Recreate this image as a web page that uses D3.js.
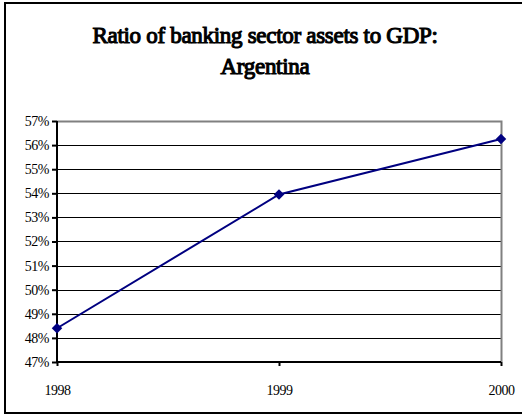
<!DOCTYPE html>
<html>
<head>
<meta charset="utf-8">
<script src="https://cdn.jsdelivr.net/npm/d3@7"></script>
<style>
  html, body { margin: 0; padding: 0; background: #fff; }
  svg { display: block; }
  text { font-family: "Liberation Serif", "Times New Roman", serif; fill: #000; }
</style>
</head>
<body>
<svg id="chart" width="522" height="415"></svg>
<script>
// Banking sector assets as a share of GDP, Argentina
const years = ["1998", "1999", "2000"];
const ratios = [0.484, 0.5395, 0.5625];
const yTicks = [0.47, 0.48, 0.49, 0.50, 0.51, 0.52, 0.53, 0.54, 0.55, 0.56, 0.57];
const titleLines = ["Ratio of banking sector assets to GDP:", "Argentina"];

const svg = d3.select("#chart");
const W = 522, H = 415;
const plot = { left: 57, right: 501, top: 121, bottom: 362 };

// Outer chart frame
svg.append("rect")
  .attr("x", 5).attr("y", 3)
  .attr("width", W + 10).attr("height", 410)
  .attr("fill", "#fff").attr("stroke", "#000").attr("stroke-width", 2);

// Title (serif, heavy stroke for weight)
svg.append("g").selectAll("text")
  .data(titleLines)
  .join("text")
  .attr("x", 265)
  .attr("y", (d, i) => 43 + i * 31)
  .attr("text-anchor", "middle")
  .attr("font-family", "Liberation Serif, serif")
  .attr("font-size", 23)
  .attr("letter-spacing", -0.3)
  .attr("stroke", "#000")
  .attr("stroke-width", 1.1)
  .text(d => d);

const x = d3.scalePoint().domain(years).range([plot.left, plot.right]);
const y = d3.scaleLinear().domain([0.47, 0.57]).range([plot.bottom, plot.top]);

// Horizontal gridlines
svg.append("g")
  .selectAll("line")
  .data(yTicks.filter(t => t > 0.47 && t < 0.57))
  .join("line")
  .attr("x1", plot.left).attr("x2", plot.right)
  .attr("y1", d => Math.round(y(d)) + 0.5).attr("y2", d => Math.round(y(d)) + 0.5)
  .attr("stroke", "#000").attr("stroke-width", 1);

// Plot frame: top and right edges in grey
svg.append("path")
  .attr("d", `M${plot.left},${plot.top + 0.5}H${plot.right + 0.5}V${plot.bottom}`)
  .attr("fill", "none").attr("stroke", "#808080").attr("stroke-width", 2);

// Y axis
const yAxis = svg.append("g")
  .attr("transform", `translate(${plot.left},0)`)
  .call(d3.axisLeft(y).tickValues(yTicks).tickFormat(d3.format(".0%")).tickSize(5).tickPadding(3));
yAxis.select(".domain").attr("stroke", "#000").attr("stroke-width", 2)
  .attr("d", `M0,${plot.top}V${plot.bottom}`);
yAxis.selectAll(".tick line").attr("stroke", "#000").attr("stroke-width", 2);
yAxis.selectAll(".tick text")
  .attr("font-family", "Liberation Serif, serif")
  .attr("font-size", 14).attr("fill", "#000").attr("letter-spacing", -0.5);

// X axis
const xAxis = svg.append("g")
  .attr("transform", `translate(0,${plot.bottom})`)
  .call(d3.axisBottom(x).tickSize(4).tickPadding(19));
xAxis.select(".domain").attr("stroke", "#000").attr("stroke-width", 2)
  .attr("d", `M${plot.left},0H${plot.right}`);
xAxis.selectAll(".tick line").attr("stroke", "#000").attr("stroke-width", 2);
xAxis.selectAll(".tick text")
  .attr("font-family", "Liberation Serif, serif")
  .attr("font-size", 14).attr("fill", "#000").attr("letter-spacing", -0.5);

// Series line
const series = years.map((yr, i) => ({ year: yr, value: ratios[i] }));
svg.append("path")
  .datum(series)
  .attr("fill", "none")
  .attr("stroke", "#000080")
  .attr("stroke-width", 2)
  .attr("d", d3.line().x(d => x(d.year)).y(d => y(d.value)));

// Diamond markers
svg.append("g")
  .selectAll("path")
  .data(series)
  .join("path")
  .attr("transform", d => `translate(${x(d.year)},${y(d.value)})`)
  .attr("d", d3.symbol(d3.symbolDiamond2, 70))
  .attr("fill", "#000080");
</script>
</body>
</html>
